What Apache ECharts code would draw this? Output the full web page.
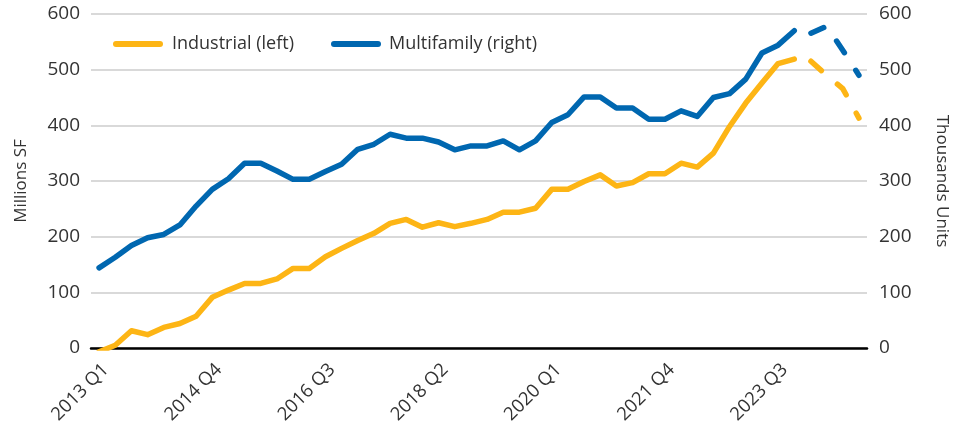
<!DOCTYPE html>
<html>
<head>
<meta charset="utf-8">
<script src="https://cdn.jsdelivr.net/npm/echarts@6/dist/echarts.min.js"></script>
<style>
  html, body { margin: 0; padding: 0; background: #fff; }
  #chart { width: 958px; height: 436px; }
</style>
</head>
<body>
<div id="chart"></div>
<script>
// quarters 2013 Q1 .. 2024 Q4
var years = [2013, 2014, 2015, 2016, 2017, 2018, 2019, 2020, 2021, 2022, 2023, 2024];
var quarters = ["Q1", "Q2", "Q3", "Q4"];
var categories = [];
years.forEach(function (y) {
  quarters.forEach(function (q) { categories.push(y + " " + q); });
});

// Industrial, millions SF (left axis)
var industrial = [-7, 5, 31, 24, 37, 44, 57, 91, 104, 116, 116, 124,
  143, 143, 164, 179, 193, 206, 224, 231, 217, 225, 218, 224,
  231, 244, 244, 251, 285, 285, 299, 311, 291, 297, 313, 313,
  332, 325, 350, 398, 440, 476, 511, 519, 516, 490, 466, 413];

// Multifamily, thousands units (right axis)
var multifamily = [144, 163, 184, 198, 204, 221, 255, 285, 304, 332, 332, 318,
  303, 303, 317, 330, 357, 366, 384, 377, 377, 370, 356, 363,
  363, 372, 356, 372, 405, 419, 451, 451, 431, 431, 411, 411,
  426, 416, 450, 457, 483, 530, 544, 570, 565, 578, 535, 490];

// index where the dashed (forecast) part starts
var forecastFrom = 43;

var yTicks = { min: 0, max: 600, interval: 100 };

var YELLOW = "#FDB515";
var BLUE = "#0067B0";
var FONT = "Open Sans";

function solidPart(arr) {
  return arr.map(function (v, i) { return i <= forecastFrom ? v : "-"; });
}
function dashedPart(arr) {
  return arr.map(function (v, i) { return i >= forecastFrom ? v : "-"; });
}

var capsule = "path://M3,0 H47 A3,3 0 0 1 47,6 H3 A3,3 0 0 1 3,0 Z";

var chart = echarts.init(document.getElementById("chart"));

var option = {
  animation: false,
  grid: { left: 91, right: 78, top: 14, bottom: 88 },
  legend: [
    {
      data: ["Industrial (left)"],
      left: 108, top: 30,
      icon: capsule, itemWidth: 50, itemHeight: 6,
      textStyle: { fontFamily: FONT, fontSize: 18, color: "#333", padding: [0, 0, 0, 4] }
    },
    {
      data: ["Multifamily (right)"],
      left: 326, top: 30,
      icon: capsule, itemWidth: 50, itemHeight: 6,
      textStyle: { fontFamily: FONT, fontSize: 18, color: "#333", padding: [0, 0, 0, 3] }
    }
  ],
  xAxis: {
    type: "category",
    data: categories,
    boundaryGap: true,
    axisLine: { lineStyle: { color: "#000", width: 2.5 } },
    axisTick: { show: false },
    axisLabel: {
      interval: 6,
      rotate: 45,
      margin: 12,
      verticalAlign: "top",
      fontFamily: FONT, fontSize: 18.5, color: "#333"
    }
  },
  yAxis: [
    {
      type: "value",
      min: yTicks.min, max: yTicks.max, interval: yTicks.interval,
      name: "Millions SF",
      nameLocation: "middle",
      nameGap: 61,
      nameTextStyle: { fontFamily: FONT, fontSize: 17, color: "#333" },
      axisLine: { show: false },
      axisTick: { show: false },
      axisLabel: { margin: 11, fontFamily: FONT, fontSize: 19, color: "#333" },
      splitLine: { lineStyle: { color: "#d9d9d9", width: 2 } }
    },
    {
      type: "value",
      min: yTicks.min, max: yTicks.max, interval: yTicks.interval,
      name: "Thousands Units",
      nameLocation: "middle",
      nameGap: 66,
      nameRotate: -90,
      nameTextStyle: { fontFamily: FONT, fontSize: 17, color: "#333" },
      axisLine: { show: false },
      axisTick: { show: false },
      axisLabel: { margin: 12, fontFamily: FONT, fontSize: 19, color: "#333" },
      splitLine: { show: false }
    }
  ],
  series: [
    {
      name: "Industrial (left)", type: "line", yAxisIndex: 0,
      data: solidPart(industrial), symbol: "none", color: YELLOW,
      lineStyle: { width: 5.5, color: YELLOW, cap: "round", join: "round" }
    },
    {
      name: "Industrial (left)", type: "line", yAxisIndex: 0,
      data: dashedPart(industrial), symbol: "none", color: YELLOW,
      lineStyle: { width: 5.5, color: YELLOW, type: [14, 21], dashOffset: 18, cap: "round", join: "round" }
    },
    {
      name: "Multifamily (right)", type: "line", yAxisIndex: 1,
      data: solidPart(multifamily), symbol: "none", color: BLUE,
      lineStyle: { width: 5.5, color: BLUE, cap: "round", join: "round" }
    },
    {
      name: "Multifamily (right)", type: "line", yAxisIndex: 1,
      data: dashedPart(multifamily), symbol: "none", color: BLUE,
      lineStyle: { width: 5.5, color: BLUE, type: [14, 21], dashOffset: 18, cap: "round", join: "round" }
    }
  ]
};

chart.setOption(option);
</script>
</body>
</html>
